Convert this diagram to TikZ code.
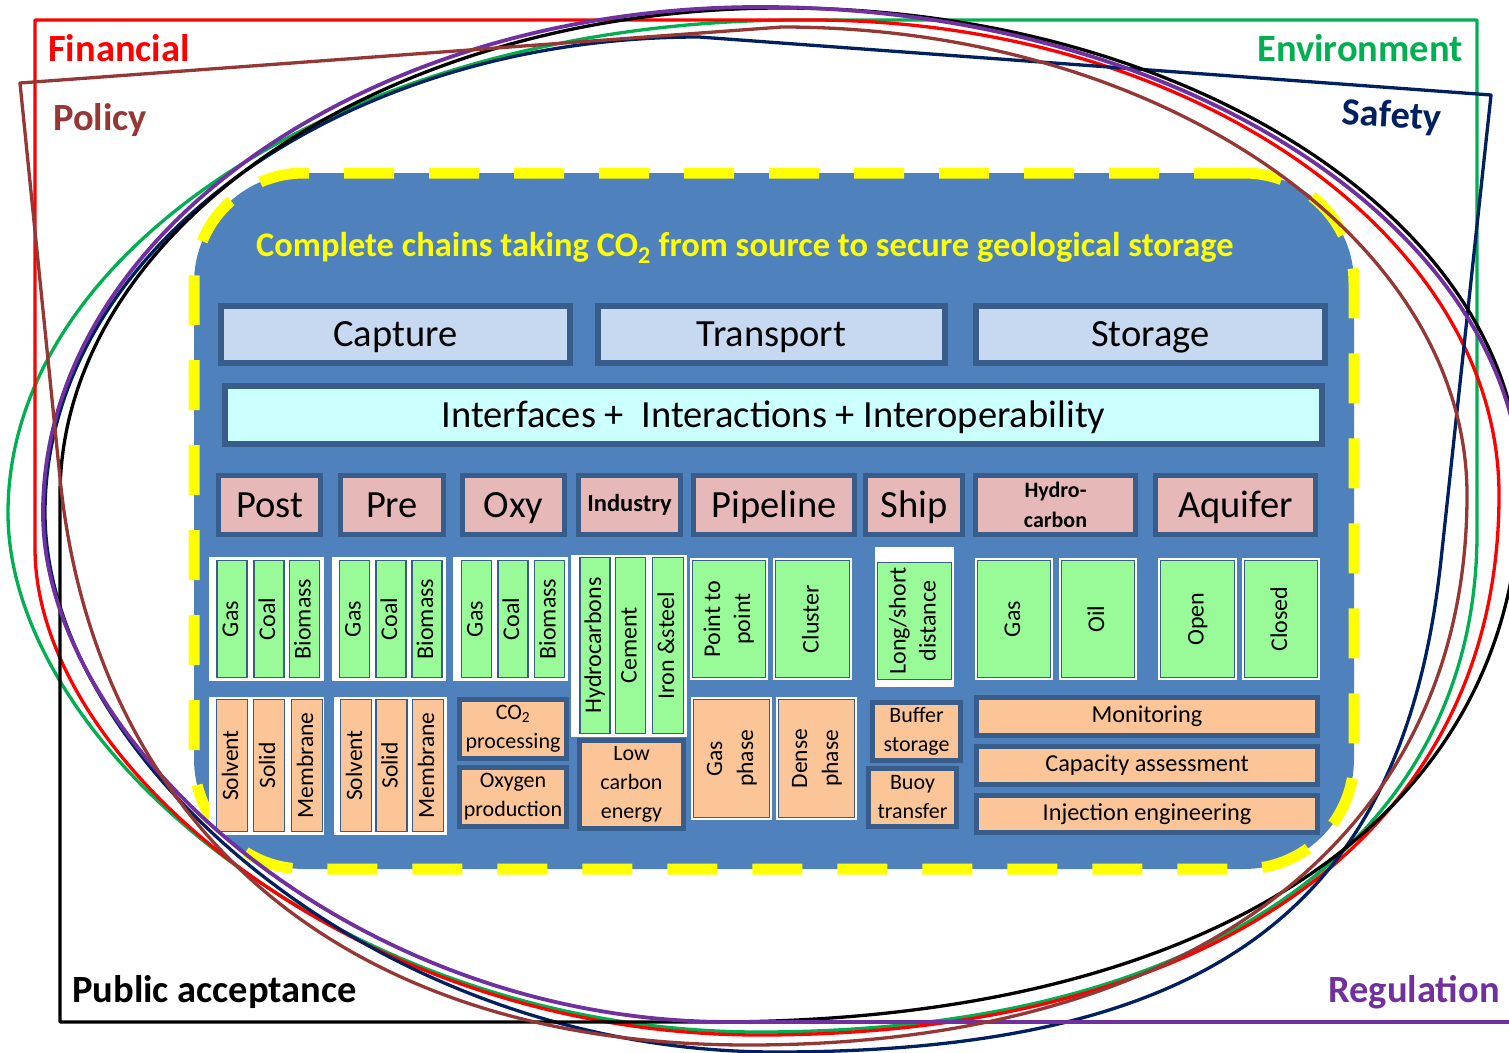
\documentclass[tikz,border=0pt]{standalone}
\usepackage{fontspec}
\setmainfont{Carlito}
\definecolor{cblue}{HTML}{4F81BD}
\definecolor{cdark}{HTML}{385D8A}
\definecolor{clight}{HTML}{C6D9F1}
\definecolor{ccyan}{HTML}{CCFFFF}
\definecolor{cpink}{HTML}{E6B9B8}
\definecolor{cgreen}{HTML}{98FB98}
\definecolor{cpeach}{HTML}{FBC597}
\definecolor{cyel}{HTML}{FFFF00}
\definecolor{cred}{HTML}{FF0000}
\definecolor{cenv}{HTML}{00B050}
\definecolor{cpol}{HTML}{953735}
\definecolor{csaf}{HTML}{002060}
\definecolor{creg}{HTML}{7030A0}
\newcommand\fs[2]{\fontsize{#1}{#2}\selectfont}
% style, name, x1, y1, x2, y2, border width, text
\newcommand\bx[8]{\node[#1, line width=#7pt, inner sep=0pt,
  minimum width={(#5-#3-#7)*1pt}, minimum height={(#6-#4-#7)*1pt}]
  (#2) at ({(#3+#5)/2},{(#4+#6)/2}) {#8};}
\newcommand\rot[1]{\rotatebox{90}{\begin{tabular}{@{}c@{}}#1\end{tabular}}}
\tikzset{
  capcenter/.style={text height=24.3pt, text depth=0pt},
  headbox/.style={fill=clight, draw=cdark, font={\fs{38.5}{46}}, capcenter},
  ifbox/.style={fill=ccyan, draw=cdark, font={\fs{38.5}{46}}, capcenter},
  pinkbox/.style={fill=cpink, draw=cdark, font={\fs{38.5}{46}}, capcenter},
  pinkbold/.style={fill=cpink, draw=cdark, font={\fs{22}{30}\bfseries}, align=center},
  greenbox/.style={fill=cgreen, draw=cdark, font={\fs{24}{30}}},
  peachbox/.style={fill=cpeach, draw=cdark, font={\fs{23.5}{31}}},
  peachthick/.style={fill=cpeach, draw=cdark, font={\fs{22}{29}}, align=center},
  wback/.style={fill=white},
  catline/.style={line width=3.3pt, line join=round},
  catlabel/.style={font={\fs{38.5}{46}\bfseries}, inner sep=0pt},
}
\begin{document}
\begin{tikzpicture}[x=1pt,y=-1pt]
\useasboundingbox (0,0) rectangle (1509,1052);
\clip (0,0) rectangle (1509,1052);

% central panel
\node[fill=cblue, draw=cyel, line width=11pt, dash pattern=on 50pt off 35pt,
  rounded corners=110pt, inner sep=0pt, minimum width=1160pt, minimum height=696pt]
  (panel) at (774,521) {};
\node[font={\fs{34.5}{40}\bfseries}, text=cyel, anchor=base, inner sep=0pt] (title) at (745,256)
  {Complete chains taking CO\textsubscript{2} from source to secure geological storage};

% row 1 and 2
\bx{headbox}{capture}{218}{303}{573}{366}{6}{Capture}
\bx{headbox}{transport}{595}{303}{948}{366}{6}{Transport}
\bx{headbox}{storage}{973}{303}{1328}{366}{6}{Storage}
\bx{ifbox}{interf}{222}{383}{1325}{447}{6}{Interfaces +\ \ Interactions + Interoperability}

% row 3
\bx{pinkbox}{post}{216}{473}{323}{537}{5}{Post}
\bx{pinkbox}{pre}{338}{473}{446}{537}{5}{Pre}
\bx{pinkbox}{oxy}{460}{473}{567}{537}{5}{Oxy}
\bx{pinkbold}{industry}{576}{473}{683}{537}{5}{\fs{24.5}{28}Industry}
\bx{pinkbox}{pipeline}{691}{473}{857}{537}{5}{Pipeline}
\bx{pinkbox}{ship}{863}{473}{965}{537}{5}{Ship}
\bx{pinkbold}{hydro}{973}{473}{1138}{537}{5}{Hydro-\\carbon}
\bx{pinkbox}{aquifer}{1153}{473}{1318}{537}{5}{Aquifer}

% row 4: green
\bx{wback}{wpost}{209}{557}{324}{681}{0}{}
\bx{greenbox}{pgas}{217}{560}{247}{678}{1.2}{\rot{Gas}}
\bx{greenbox}{pcoal}{255}{560}{283}{678}{1.2}{\rot{Coal}}
\bx{greenbox}{pbio}{289}{560}{320}{678}{1.2}{\rot{Biomass}}
\bx{wback}{wpre}{332}{557}{446}{681}{0}{}
\bx{greenbox}{rgas}{340}{560}{369}{678}{1.2}{\rot{Gas}}
\bx{greenbox}{rcoal}{378}{560}{404}{678}{1.2}{\rot{Coal}}
\bx{greenbox}{rbio}{412}{560}{442}{678}{1.2}{\rot{Biomass}}
\bx{wback}{woxy}{453}{557}{568}{681}{0}{}
\bx{greenbox}{ogas}{462}{560}{491}{678}{1.2}{\rot{Gas}}
\bx{greenbox}{ocoal}{500}{560}{526}{678}{1.2}{\rot{Coal}}
\bx{greenbox}{obio}{535}{560}{564}{678}{1.2}{\rot{Biomass}}
\bx{wback}{wind}{571}{555}{687}{737}{0}{}
\bx{greenbox}{ihyd}{581}{557}{609}{734}{1.2}{\rot{Hydrocarbons}}
\bx{greenbox}{icem}{618}{557}{643}{734}{1.2}{\rot{Cement}}
\bx{greenbox}{iiron}{652}{557}{684}{734}{1.2}{\rot{Iron \&steel}}

\bx{wback}{wp2p}{690}{558}{768}{680}{0}{}
\bx{greenbox}{p2p}{692}{560}{766}{678}{1.2}{\rot{Point to\\point}}
\bx{wback}{wclus}{773}{558}{852}{680}{0}{}
\bx{greenbox}{cluster}{775}{560}{850}{678}{1.2}{\rot{Cluster}}
\bx{wback}{wlong}{875}{547}{954}{687}{0}{}
\bx{greenbox}{longshort}{877}{562}{952}{680}{1.2}{\rot{Long/short\\distance}}
\bx{wback}{wsgas}{975}{558}{1053}{680}{0}{}
\bx{greenbox}{sgas}{977}{560}{1051}{678}{1.2}{\rot{Gas}}
\bx{wback}{woil}{1059}{558}{1137}{680}{0}{}
\bx{greenbox}{oil}{1061}{560}{1135}{678}{1.2}{\rot{Oil}}
\bx{wback}{wopen}{1158}{558}{1237}{680}{0}{}
\bx{greenbox}{open}{1160}{560}{1235}{678}{1.2}{\rot{Open}}
\bx{wback}{wclosed}{1242}{558}{1320}{680}{0}{}
\bx{greenbox}{closed}{1244}{560}{1318}{678}{1.2}{\rot{Closed}}

% row 5: peach
\bx{wback}{wpost2}{209}{697}{324}{835}{0}{}
\bx{peachbox}{psolv}{217}{699}{247}{832}{1.2}{\rot{Solvent}}
\bx{peachbox}{psol}{255}{699}{283}{832}{1.2}{\rot{Solid}}
\bx{peachbox}{pmem}{292}{699}{322}{832}{1.2}{\rot{Membrane}}
\bx{wback}{wpre2}{334}{697}{447}{835}{0}{}
\bx{peachbox}{rsolv}{342}{699}{370}{832}{1.2}{\rot{Solvent}}
\bx{peachbox}{rsol}{378}{699}{405}{832}{1.2}{\rot{Solid}}
\bx{peachbox}{rmem}{413}{699}{443}{832}{1.2}{\rot{Membrane}}
\bx{peachthick}{co2proc}{457}{697}{569}{761}{5}{CO\textsubscript{2}\\processing}
\bx{peachthick}{oxyprod}{457}{765}{569}{829}{5}{Oxygen\\production}
\bx{peachthick}{lowc}{577}{738}{686}{831}{5}{Low\\carbon\\energy}
\bx{wback}{wgph}{691}{697}{772}{820}{0}{}
\bx{peachbox}{gasph}{693}{699}{770}{818}{1.2}{\rot{Gas\\phase}}
\bx{wback}{wdph}{776}{697}{857}{820}{0}{}
\bx{peachbox}{denseph}{778}{699}{855}{818}{1.2}{\rot{Dense\\phase}}
\bx{peachthick}{buffer}{870}{700}{963}{763}{5}{Buffer\\storage}
\bx{peachthick}{buoy}{866}{766}{959}{829}{5}{Buoy\\transfer}
\bx{peachthick}{monit}{974}{695}{1320}{738}{5}{\fs{24.3}{28}Monitoring}
\bx{peachthick}{capac}{974}{744}{1320}{787}{5}{\fs{24.3}{28}Capacity assessment}
\bx{peachthick}{inject}{974}{793}{1320}{835}{5}{\fs{24.3}{28}Injection engineering}

% category outlines
\draw[catline, draw=cenv] (1477,20) -- (1477,533) .. controls (1477,842) and (1204,1032) .. (759,1032)
  .. controls (346,1032) and (8,747) .. (8,513) .. controls (8,242) and (364,20) .. (800,20) -- cycle;
\draw[catline, draw=cred] (35,20) -- (811,20) .. controls (1189,20) and (1499,234) .. (1499,495)
  .. controls (1499,830) and (1218,1035) .. (759,1035) .. controls (361,1035) and (35,767) .. (35,548) -- cycle;
\draw[catline, draw=csaf] (1491,95) -- (1441,560) .. controls (1405,895) and (1228,1052) .. (776,1052)
  .. controls (374,1052) and (45,756) .. (45,513) .. controls (45,251) and (339,37) .. (699,37) -- cycle;
\draw[catline, draw=black] (60,1022) -- (60,496) .. controls (60,228) and (385,8) .. (782,8)
  .. controls (1188,8) and (1520,223) .. (1520,485) .. controls (1520,818) and (1213,1022) .. (713,1022) -- cycle;
\draw[catline, draw=creg, line width=3.8pt] (1522,1022) -- (730,1022) .. controls (352,1022) and (43,742) .. (43,513)
  .. controls (43,235) and (366,7) .. (760,7) .. controls (1179,7) and (1522,229) .. (1522,500) -- cycle;
\draw[catline, draw=cpol] (20,83) -- (782,27) .. controls (1159,27) and (1467,238) .. (1467,495)
  .. controls (1467,836) and (1194,1045) .. (748,1045) .. controls (335,1045) and (94,818) .. (60,478) -- cycle;

% category labels
\node[catlabel, text=cred, anchor=base west] (lfin) at (48,61) {Financial};
\node[catlabel, text=cpol, anchor=base west] (lpol) at (53,130) {Policy};
\node[catlabel, text=cenv, anchor=base east] (lenv) at (1463,61) {Environment};
\node[catlabel, text=csaf, anchor=base east, rotate=-3] (lsaf) at (1441,130) {Safety};
\node[catlabel, text=black, anchor=base west] (lpub) at (72,1002) {Public acceptance};
\node[catlabel, text=creg, anchor=base east] (lreg) at (1500,1002) {Regulation};
\end{tikzpicture}
\end{document}
